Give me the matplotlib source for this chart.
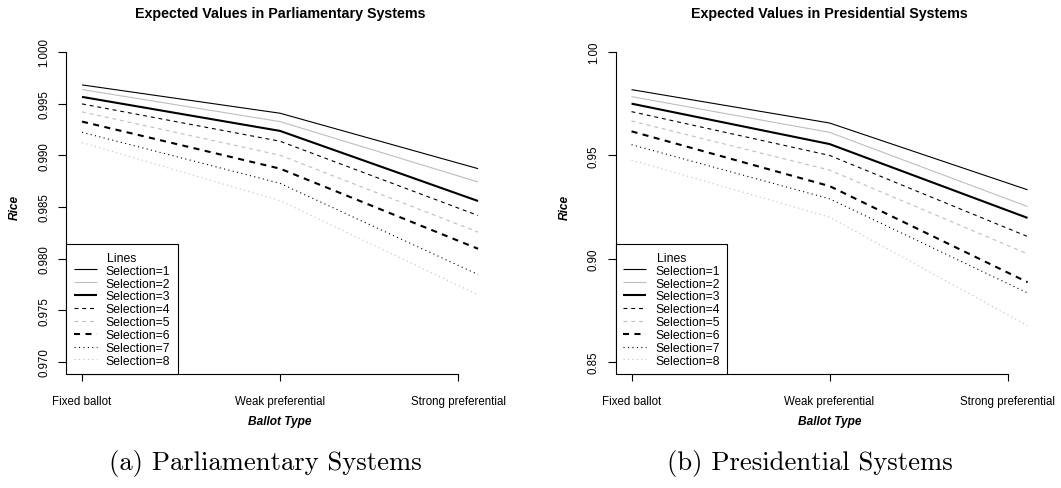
import matplotlib
matplotlib.use("Agg")
import matplotlib.pyplot as plt
from matplotlib.ticker import FormatStrFormatter

# ---- data ----
ballot_types = ["Fixed ballot", "Weak preferential", "Strong preferential"]
selections = ["Selection=1", "Selection=2", "Selection=3", "Selection=4",
              "Selection=5", "Selection=6", "Selection=7", "Selection=8"]

parl_fixed = [0.99680, 0.99635, 0.99564, 0.99496, 0.99419, 0.99325, 0.99222, 0.99122]
parl_weak = [0.99406, 0.99325, 0.99235, 0.99135, 0.99000, 0.98870, 0.98728, 0.98560]
parl_strong = [0.98870, 0.98741, 0.98557, 0.98417, 0.98256, 0.98095, 0.97846, 0.97649]

pres_fixed = [0.98175, 0.97836, 0.97497, 0.97110, 0.96658, 0.96157, 0.95511, 0.94768]
pres_weak = [0.96561, 0.96109, 0.95543, 0.94994, 0.94284, 0.93509, 0.92895, 0.92007]
pres_strong = [0.93330, 0.92520, 0.91970, 0.91070, 0.90230, 0.88860, 0.88340, 0.86760]

parl_yticks = [0.970, 0.975, 0.980, 0.985, 0.990, 0.995, 1.000]
pres_yticks = [0.85, 0.90, 0.95, 1.00]

# ---- styles ----
GRAY = "#BEBEBE"
styles = [
    dict(color="black", lw=0.8, ls="-"),
    dict(color=GRAY, lw=0.8, ls="-"),
    dict(color="black", lw=1.5, ls="-"),
    dict(color="black", lw=0.8, ls=(0, (3.5, 3.5))),
    dict(color=GRAY, lw=0.8, ls=(0, (3.5, 3.5))),
    dict(color="black", lw=1.5, ls=(0, (2.9, 2.6))),
    dict(color="black", lw=0.8, ls=(0, (1, 3))),
    dict(color=GRAY, lw=0.8, ls=(0, (1, 3))),
]

SANS = ["Liberation Sans", "DejaVu Sans"]
TICK_FS = 8.3
LEG_FS = 8.8

fig = plt.figure(figsize=(10.61, 4.89), dpi=100)

x_line = [1, 2, 3]
x_ticks = [1, 2, 2.9]


def panel(rect, fixed, weak, strong, yticks, ylim, fmt, title, caption, cap_x):
    ax = fig.add_axes(rect)
    for i in range(len(selections)):
        ax.plot(x_line, [fixed[i], weak[i], strong[i]], label=selections[i],
                solid_capstyle="butt", dash_capstyle="butt", **styles[i])
    ax.set_xlim(0.92, 3.08)
    ax.set_ylim(*ylim)
    for s in ["top", "right"]:
        ax.spines[s].set_visible(False)
    ax.spines["left"].set_bounds(yticks[0], yticks[-1])
    ax.spines["bottom"].set_bounds(x_ticks[0], x_ticks[-1])
    for s in ["left", "bottom"]:
        ax.spines[s].set_linewidth(0.8)
    ax.set_xticks(x_ticks)
    ax.set_xticklabels(ballot_types, family=SANS, fontsize=TICK_FS)
    ax.set_yticks(yticks)
    ax.yaxis.set_major_formatter(FormatStrFormatter(fmt))
    for lab in ax.get_yticklabels():
        lab.set_family(SANS)
        lab.set_fontsize(TICK_FS)
        lab.set_rotation(90)
        lab.set_va("center")
    ax.tick_params(axis="x", length=5, width=0.8, pad=10)
    ax.tick_params(axis="y", length=5.5, width=0.8, pad=6)
    ax.set_xlabel("Ballot Type", family=SANS, fontsize=8.6,
                  fontweight="bold", fontstyle="italic")
    ax.xaxis.set_label_coords(0.5, -0.14)
    ax.xaxis.label.set_va("center")
    ax.set_ylabel("Rice", family=SANS, fontsize=8.6,
                  fontweight="bold", fontstyle="italic")
    ax.yaxis.set_label_coords(-0.12, 0.5)
    ax.yaxis.label.set_va("center")
    ax.set_title(title, family=SANS, fontsize=10.3, fontweight="bold",
                 y=1.078, va="center", pad=0)
    leg = ax.legend(loc="lower left", bbox_to_anchor=(0, 0), borderaxespad=0,
                    title="Lines", fancybox=False, edgecolor="black",
                    framealpha=1, prop=dict(family=SANS, size=LEG_FS),
                    title_fontproperties=dict(family=SANS, size=LEG_FS),
                    handlelength=1.9, handletextpad=0.74, labelspacing=0.07,
                    borderpad=0.6)
    leg.get_frame().set_linewidth(0.8)
    fig.text(cap_x, 1 - 463.3 / 489, caption, family="cmr10", fontsize=19.2,
             ha="center", va="center")
    return ax


panel([66.2 / 1061, 114 / 489, 427.7 / 1061, 334.5 / 489],
      parl_fixed, parl_weak, parl_strong, parl_yticks, (0.96884, 1.00119),
      "%.3f", "Expected Values in Parliamentary Systems",
      "(a) Parliamentary Systems", 265.6 / 1061)
panel([615.7 / 1061, 114 / 489, 427.7 / 1061, 334.5 / 489],
      pres_fixed, pres_weak, pres_strong, pres_yticks, (0.8442, 1.0060),
      "%.2f", "Expected Values in Presidential Systems",
      "(b) Presidential Systems", 810 / 1061)

fig.savefig("out.png", dpi=100)
